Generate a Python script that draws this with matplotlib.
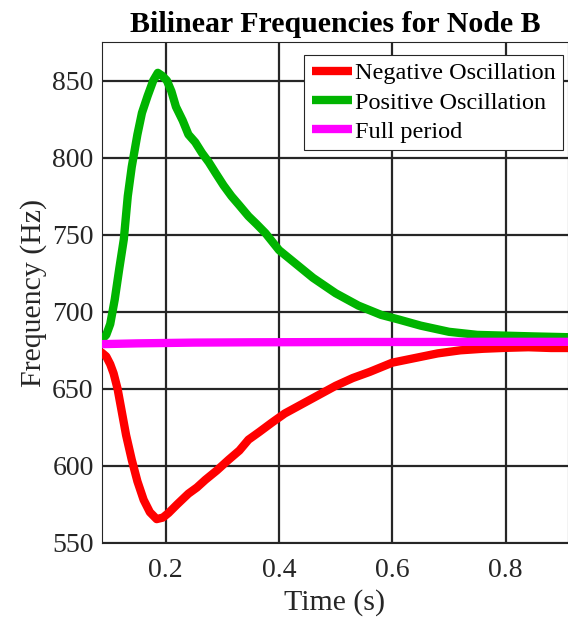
import numpy as np
import matplotlib.pyplot as plt

# time (s) and frequencies (Hz)
t_neg = [0.087, 0.095, 0.102, 0.108, 0.115, 0.122, 0.130, 0.140, 0.150, 0.161, 0.172,
         0.184, 0.195, 0.205, 0.220, 0.240, 0.255, 0.270, 0.290, 0.311, 0.330, 0.346,
         0.365, 0.387, 0.410, 0.440, 0.470, 0.500, 0.530, 0.560, 0.600, 0.640, 0.680,
         0.720, 0.760, 0.800, 0.840, 0.880, 0.910]
f_neg = [673.5, 671, 666, 660, 650, 636, 620, 604, 590, 578, 570,
         565.5, 566.5, 569.5, 575, 582, 586, 591, 597, 604, 610, 617,
         622, 628, 634, 640, 646, 652, 657, 661, 667, 670, 673,
         675, 676, 676.6, 677, 676.5, 676.5]

t_pos = [0.087, 0.095, 0.102, 0.110, 0.118, 0.126, 0.133, 0.140, 0.150, 0.158, 0.168,
         0.178, 0.186, 0.194, 0.202, 0.210, 0.218, 0.230, 0.240, 0.252, 0.264, 0.276,
         0.288, 0.302, 0.316, 0.330, 0.346, 0.360, 0.376, 0.400, 0.430, 0.460, 0.500,
         0.540, 0.580, 0.611, 0.650, 0.700, 0.750, 0.800, 0.850, 0.910]
f_pos = [682, 685, 692, 708, 728, 747, 775, 794, 815, 829, 840,
         850, 855, 853, 850, 843, 833, 824, 815, 810, 803, 797,
         790, 782, 775, 769, 762, 757, 751, 740, 731, 722, 712,
         704, 698, 695, 691, 687, 685, 684.5, 684, 683.5]

t_full = [0.087, 0.15, 0.25, 0.35, 0.45, 0.55, 0.65, 0.75, 0.85, 0.91]
f_full = [679.0, 679.5, 680.0, 680.2, 680.3, 680.4, 680.4, 680.5, 680.5, 680.5]

plt.rcParams['font.family'] = ['Liberation Serif', 'DejaVu Serif']

fig = plt.figure(figsize=(5.68, 6.19), dpi=100)
ax = fig.add_axes([102/568, 1 - 543/619, 1 - 102/568, (543 - 42)/619])

lw = 6
ax.plot(t_neg, f_neg, color='#ff0000', lw=lw, solid_capstyle='round', label='Negative Oscillation', zorder=3)
ax.plot(t_pos, f_pos, color='#00b400', lw=lw, solid_capstyle='round', label='Positive Oscillation', zorder=3)
ax.plot(t_full, f_full, color='#ff00ff', lw=lw, solid_capstyle='round', label='Full period', zorder=4)

ax.set_xlim(0.0875, 0.91)
ax.set_ylim(550, 875)
ax.set_xticks([0.2, 0.4, 0.6, 0.8])
ax.set_yticks([550, 600, 650, 700, 750, 800, 850])
ax.grid(True, color='#262626', lw=1.6)
ax.set_axisbelow(True)
ax.tick_params(labelsize=20, length=0, colors='#262626')
ax.tick_params(axis='y', pad=6)
ax.tick_params(axis='x', pad=11)
for s in ax.spines.values():
    s.set_color('#262626')
    s.set_linewidth(0.8)

ax.set_xlabel('Time (s)', fontsize=21.5, color='#262626', labelpad=4)
ax.set_ylabel('Frequency (Hz)', fontsize=21.5, color='#262626', labelpad=4)
ax.set_title('Bilinear Frequencies for Node B', fontsize=21.5, fontweight='bold', pad=7)

leg = ax.legend(loc='upper right', bbox_to_anchor=(0.99, 0.974), fontsize=17.5,
                frameon=True, fancybox=False, handlelength=1.65, handletextpad=0.15,
                borderpad=0.3, labelspacing=0.3, borderaxespad=0)
leg.get_frame().set_edgecolor('#262626')
leg.get_frame().set_linewidth(0.8)
leg.get_frame().set_alpha(1)
for h in leg.get_lines():
    h.set_linewidth(6)
    h.set_solid_capstyle('butt')

fig.savefig('out.png', dpi=100)
